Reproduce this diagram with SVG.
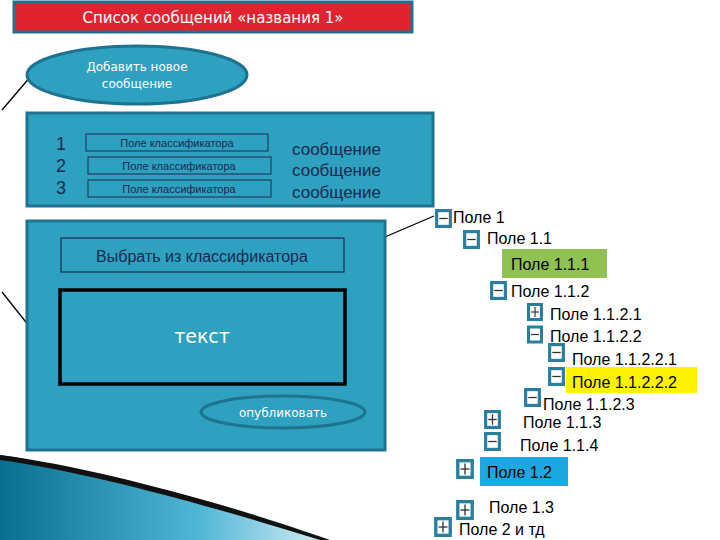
<svg xmlns="http://www.w3.org/2000/svg" width="720" height="540" viewBox="0 0 720 540">
<defs>
<style>
.pan{fill:#2ea0c0;stroke:#1d7390;stroke-width:3}
.fld{fill:none;stroke:#1a2a50;stroke-width:1}
.ft{font-family:"Liberation Sans",Arial,sans-serif;font-size:11px;fill:#1a2a50;text-anchor:middle}
.msg{font-family:"Liberation Sans",Arial,sans-serif;font-size:17px;fill:#1a2a50}
.tr{font-family:"Liberation Sans",Arial,sans-serif;font-size:16px;fill:#000}
.ic{fill:#fff;stroke:#2a7f9e;stroke-width:3}
.sg{stroke:#333;stroke-width:1.2}
.ln{stroke:#000;stroke-width:1.3;fill:none}
</style>
<linearGradient id="sw" x1="0" y1="0" x2="1" y2="0">
<stop offset="0" stop-color="#0a6f8f"/><stop offset="0.6" stop-color="#4fb6d6"/><stop offset="1" stop-color="#d8eef5"/>
</linearGradient>
<symbol id="minus" viewBox="0 0 16 18"><rect class="ic" x="1.5" y="1.5" width="13" height="15"/><line class="sg" x1="4" y1="9" x2="12" y2="9"/></symbol>
<symbol id="plus" viewBox="0 0 16 18"><rect class="ic" x="1.5" y="1.5" width="13" height="15"/><line class="sg" x1="4" y1="9" x2="12" y2="9"/><line class="sg" x1="8" y1="4" x2="8" y2="14"/></symbol>
</defs>
<rect width="720" height="540" fill="#fff"/>
<path d="M0 455 C100 470 250 510 330 540 L0 540 Z" fill="url(#sw)"/>
<path d="M0 455 C100 468 240 508 330 540 L320 540 C230 512 100 474 0 460 Z" fill="#111"/>
<g id="title"><rect x="14" y="2" width="398" height="30" fill="#e0242f" stroke="#1d7390" stroke-width="3"/>
<text x="213" y="23" text-anchor="middle" font-family="'DejaVu Sans',sans-serif" font-size="15" fill="#fff">Список сообщений «названия 1»</text></g>
<g id="connectors">
<line class="ln" x1="2" y1="110" x2="31" y2="76"/>
<line class="ln" x1="2" y1="292" x2="29" y2="326"/>
<line class="ln" x1="345" y1="254" x2="434" y2="216"/>
</g>
<g id="add"><ellipse cx="137" cy="75" rx="110" ry="29" fill="#2ea0c0" stroke="#1d7390" stroke-width="3"/>
<text x="137" y="71" text-anchor="middle" font-family="'DejaVu Sans',sans-serif" font-size="12" fill="#fff">Добавить новое</text>
<text x="137" y="88" text-anchor="middle" font-family="'DejaVu Sans',sans-serif" font-size="12" fill="#fff">сообщение</text></g>
<g id="list"><rect class="pan" x="27" y="113" width="406" height="93"/>
<g font-family="'Liberation Sans',Arial,sans-serif" font-size="18" fill="#1a2a50"><text x="56" y="150">1</text><text x="56" y="172">2</text><text x="56" y="194">3</text></g>
<rect class="fld" x="86" y="134" width="182" height="17"/><text class="ft" x="177" y="147">Поле  классификатора</text>
<rect class="fld" x="88" y="157" width="183" height="17"/><text class="ft" x="179" y="170">Поле  классификатора</text>
<rect class="fld" x="88" y="180" width="183" height="17"/><text class="ft" x="179" y="193">Поле  классификатора</text>
<text class="msg" x="292" y="155">сообщение</text><text class="msg" x="292" y="176">сообщение</text><text class="msg" x="292" y="198">сообщение</text></g>
<g id="editor"><rect class="pan" x="27" y="221" width="358" height="229"/>
<rect x="61" y="238" width="283" height="34" fill="none" stroke="#1a2a50" stroke-width="1.2"/>
<text x="202" y="262" text-anchor="middle" font-family="'Liberation Sans',Arial,sans-serif" font-size="16" fill="#1a2a50">Выбрать из  классификатора</text>
<rect x="60" y="290" width="285" height="94" fill="#2ea0c0" stroke="#000" stroke-width="3.5"/>
<text x="202" y="343" text-anchor="middle" font-family="'DejaVu Sans',sans-serif" font-size="19" fill="#fff">текст</text>
<ellipse cx="283" cy="412" rx="82" ry="16" fill="#2ea0c0" stroke="#1d7390" stroke-width="3"/>
<text x="283" y="417" text-anchor="middle" font-family="'DejaVu Sans',sans-serif" font-size="12" fill="#fff">опубликовать</text></g>
<g id="tree">
<rect x="502" y="249" width="105" height="29" fill="#8fc153"/>
<rect x="566" y="367" width="131" height="26" fill="#fff200"/>
<rect x="480" y="457" width="88" height="29" fill="#1ba8e0"/>
<use href="#minus" x="435" y="209" width="17" height="19"/><text class="tr" x="453" y="223">Поле 1</text>
<use href="#minus" x="463" y="230" width="17" height="19"/><text class="tr" x="487" y="244">Поле 1.1</text>
<text class="tr" x="511" y="270">Поле 1.1.1</text>
<use href="#minus" x="490" y="281" width="17" height="19"/><text class="tr" x="511" y="297">Поле 1.1.2</text>
<use href="#plus" x="527" y="303" width="16" height="18"/><text class="tr" x="550" y="320">Поле 1.1.2.1</text>
<use href="#minus" x="527" y="325" width="16" height="19"/><text class="tr" x="550" y="342">Поле 1.1.2.2</text>
<use href="#minus" x="548" y="343" width="17" height="19"/><text class="tr" x="572" y="365">Поле 1.1.2.2.1</text>
<use href="#minus" x="548" y="367" width="17" height="19"/><text class="tr" x="572" y="388">Поле 1.1.2.2.2</text>
<use href="#minus" x="524" y="388" width="17" height="19"/><text class="tr" x="543" y="410">Поле 1.1.2.3</text>
<use href="#plus" x="484" y="410" width="17" height="19"/><text class="tr" x="523" y="428">Поле 1.1.3</text>
<use href="#minus" x="484" y="432" width="17" height="19"/><text class="tr" x="520" y="451">Поле 1.1.4</text>
<use href="#plus" x="456" y="459" width="18" height="20"/><text class="tr" x="487" y="478">Поле 1.2</text>
<use href="#plus" x="456" y="500" width="18" height="20"/><text class="tr" x="489" y="513">Поле 1.3</text>
<use href="#plus" x="434" y="517" width="18" height="20"/><text class="tr" x="459" y="535">Поле 2 и тд</text>
</g>
</svg>
